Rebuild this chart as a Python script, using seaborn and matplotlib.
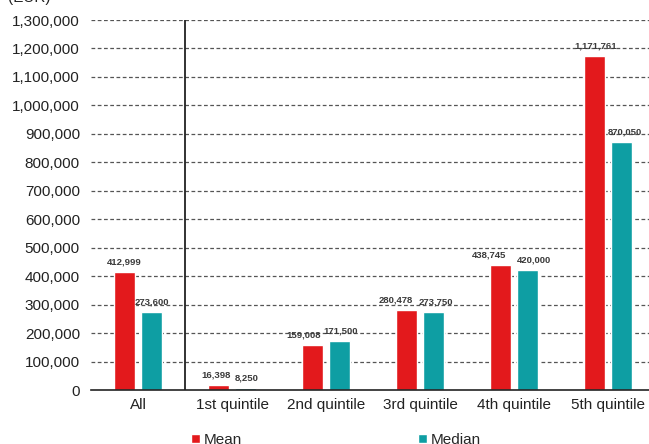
import matplotlib
matplotlib.use("Agg")
import matplotlib.pyplot as plt
import seaborn as sns
import pandas as pd

categories = ["All", "1st quintile", "2nd quintile", "3rd quintile", "4th quintile", "5th quintile"]
mean_values = [412999, 16398, 159008, 280478, 438745, 1171761]
median_values = [273600, 8250, 171500, 273750, 420000, 870050]
series_names = ["Mean", "Median"]
colors = ["#E3191C", "#0E9EA3"]

# horizontal nudges (points) that keep neighbouring value labels apart
mean_label_dx = [0, -2, -6.5, -8, -8, 1]
median_label_dx = [0, 0.7, 1, 2, 5, 2.5]

df = pd.DataFrame({
    "group": categories * 2,
    "stat": [series_names[0]] * len(categories) + [series_names[1]] * len(categories),
    "value": mean_values + median_values,
})

sns.set_style("white")
plt.rcParams["font.family"] = ["Liberation Sans", "DejaVu Sans"]

fig = plt.figure(figsize=(6.49, 4.44), dpi=100)
ax = fig.add_axes([91 / 649, 1 - 390 / 444, 564 / 649, 370 / 444])

sns.barplot(data=df, x="group", y="value", hue="stat", order=categories,
            hue_order=series_names, palette=colors, width=0.575, gap=0.22,
            saturation=1, ax=ax, legend=True)

ax.set_ylim(0, 1300000)
ax.set_xlim(-0.5, len(categories) - 0.5)
yt = list(range(0, 1300001, 100000))
ax.set_yticks(yt)
ax.set_yticklabels([f"{v:,}" for v in yt], fontsize=11, color="#222222")
ax.tick_params(axis="x", labelsize=11, colors="#222222", length=0, pad=6)
ax.tick_params(axis="y", length=0, pad=8)
ax.set_xlabel("")
ax.set_ylabel("")

for v in yt[1:]:
    ax.axhline(v, color="#555555", linestyle=(0, (3, 2)), linewidth=0.9, zorder=0)

for s in ["top", "right", "left"]:
    ax.spines[s].set_visible(False)
ax.spines["bottom"].set_color("#222222")
ax.spines["bottom"].set_linewidth(1.2)

# separator between the total and the quintiles
ax.axvline(0.5, color="#222222", linewidth=1.3, zorder=1)

for cont, nudges in zip(ax.containers, [mean_label_dx, median_label_dx]):
    anns = ax.bar_label(cont, labels=[f"{int(b.get_height()):,}" for b in cont],
                        fontsize=6.8, fontweight="bold", color="#3a3a3a", padding=4)
    for ann, dx in zip(anns, nudges):
        ann.xyann = (dx, 4)

ax.legend(loc="upper left", bbox_to_anchor=(0.178, -0.116), ncol=2, frameon=False,
          fontsize=11, handlelength=0.55, handleheight=0.55, handletextpad=0.25,
          columnspacing=11.55, borderaxespad=0, borderpad=0)

fig.text(8 / 649, 1 + 2 / 444, "(EUR)", fontsize=11, color="#222222", va="center")

fig.savefig("out.png", dpi=100)
